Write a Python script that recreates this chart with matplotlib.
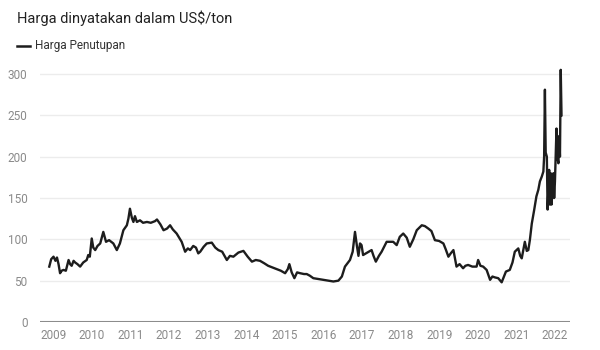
import matplotlib.pyplot as plt

plt.rcParams['font.family'] = ['Roboto', 'DejaVu Sans']

# closing price (decimal year, US$/ton)
years = [2008.90, 2008.95, 2009.01, 2009.06, 2009.10, 2009.14, 2009.18, 2009.22, 2009.27,
         2009.33, 2009.40, 2009.44, 2009.48, 2009.53, 2009.57, 2009.63, 2009.70, 2009.78,
         2009.87, 2009.91, 2009.95, 2010.00, 2010.04, 2010.09, 2010.15, 2010.22, 2010.30,
         2010.37, 2010.45, 2010.56, 2010.65, 2010.73, 2010.82, 2010.91, 2010.95, 2010.99,
         2011.04, 2011.08, 2011.12, 2011.17, 2011.25, 2011.33, 2011.43, 2011.53, 2011.64,
         2011.69, 2011.78, 2011.86, 2011.95, 2012.03, 2012.10, 2012.20, 2012.33, 2012.42,
         2012.49, 2012.55, 2012.63, 2012.70, 2012.76, 2012.81, 2012.90, 2012.98, 2013.11,
         2013.20, 2013.28, 2013.38, 2013.50, 2013.58, 2013.67, 2013.80, 2013.93, 2014.04,
         2014.15, 2014.25, 2014.36, 2014.47, 2014.57, 2014.68, 2014.79, 2014.90, 2015.01,
         2015.08, 2015.12, 2015.18, 2015.25, 2015.32, 2015.40, 2015.50, 2015.57, 2015.65,
         2015.74, 2015.87, 2016.00, 2016.13, 2016.26, 2016.39, 2016.48, 2016.56, 2016.69,
         2016.76, 2016.82, 2016.87, 2016.91, 2016.95, 2016.99, 2017.03, 2017.14, 2017.25,
         2017.30, 2017.36, 2017.44, 2017.51, 2017.64, 2017.72, 2017.81, 2017.90, 2017.98,
         2018.07, 2018.16, 2018.24, 2018.33, 2018.42, 2018.55, 2018.63, 2018.72, 2018.80,
         2018.89, 2019.00, 2019.11, 2019.17, 2019.24, 2019.30, 2019.37, 2019.45, 2019.53,
         2019.62, 2019.68, 2019.75, 2019.86, 2019.97, 2020.01, 2020.07, 2020.14, 2020.23,
         2020.32, 2020.38, 2020.44, 2020.53, 2020.62, 2020.68, 2020.73, 2020.83, 2020.90,
         2020.96, 2021.05, 2021.10, 2021.14, 2021.22, 2021.27, 2021.31, 2021.35, 2021.40,
         2021.46, 2021.52, 2021.57, 2021.61, 2021.66, 2021.70, 2021.72, 2021.74, 2021.76,
         2021.79, 2021.81, 2021.83, 2021.85, 2021.87, 2021.89, 2021.91, 2021.93, 2021.96,
         2021.98, 2022.00, 2022.02, 2022.04, 2022.06, 2022.09, 2022.11, 2022.13, 2022.15,
         2022.17]
price = [67, 76, 79, 74, 78, 70, 59, 62, 63,
         62, 75, 70, 68, 74, 72, 70, 67, 72,
         75, 81, 79, 101, 90, 87, 92, 95, 109,
         97, 99, 95, 87, 95, 111, 117, 125, 137,
         126, 121, 128, 121, 123, 120, 121, 120, 122,
         124, 118, 111, 113, 117, 112, 107, 97, 85,
         89, 87, 92, 90, 83, 85, 91, 95, 96,
         90, 87, 85, 75, 80, 79, 84, 86, 79,
         73, 75, 74, 71, 68, 66, 64, 62, 59,
         64, 70, 60, 53, 60, 59, 58, 58, 56,
         53, 52, 51, 50, 49, 50, 55, 67, 75,
         85, 109, 92, 80, 95, 93, 81, 84, 87,
         80, 73, 80, 85, 97, 97, 97, 93, 103,
         107, 102, 91, 100, 111, 117, 116, 113, 110,
         99, 98, 95, 88, 79, 83, 87, 67, 70,
         65, 68, 69, 67, 67, 75, 68, 67, 63,
         51, 55, 54, 53, 48, 55, 61, 63, 72,
         85, 89, 80, 77, 97, 86, 87, 99, 119,
         135, 152, 160, 170, 176, 182, 200, 281, 205,
         200, 136, 160, 184, 142, 180, 142, 153, 180,
         150, 170, 200, 234, 200, 192, 225, 200, 305,
         250]

series_label = 'Harga Penutupan'
title = 'Harga dinyatakan dalam US$/ton'
tick_years = list(range(2009, 2023))
y_ticks = [0, 50, 100, 150, 200, 250, 300]

fig = plt.figure(figsize=(6, 3.5), dpi=100)
ax = fig.add_axes([40 / 600, 1 - 322 / 350, 530 / 600, (322 - 65.7) / 350])

ax.plot(years, price, color='#1d1d1d', lw=1.7, solid_joinstyle='round')

ax.set_xlim(2008.66, 2022.39)
ax.set_ylim(0, 310)

for v in y_ticks[1:]:
    ax.axhline(v, color='#ececec', lw=1, zorder=0)
ax.axhline(0, color='#8c8c8c', lw=1.5, zorder=3)

ax.set_yticks(y_ticks)
ax.set_xticks(tick_years)
ax.set_xticklabels([str(y) for y in tick_years])
ax.tick_params(axis='both', length=0, labelsize=8.5, labelcolor='#8a8a8a')
ax.tick_params(axis='y', pad=9)
ax.tick_params(axis='x', pad=5)
for s in ax.spines.values():
    s.set_visible(False)

fig.text(17 / 600, 1 - 18 / 350, title, fontsize=10.5, color='#222222', va='center')
fig.add_artist(plt.Line2D([17 / 600, 30 / 600], [1 - 46 / 350] * 2, color='#1d1d1d', lw=1.8))
fig.text(35 / 600, 1 - 46 / 350, series_label, fontsize=8.5, color='#333333', va='center')

fig.savefig('out.png', dpi=100)
